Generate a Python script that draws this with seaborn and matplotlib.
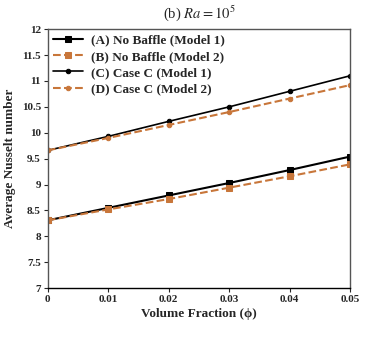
import numpy as np
import pandas as pd
import matplotlib.pyplot as plt
import seaborn as sns

phi = [0, 0.01, 0.02, 0.03, 0.04, 0.05]
nu_a = [8.31, 8.55, 8.79, 9.03, 9.28, 9.54]
nu_b = [8.31, 8.52, 8.72, 8.94, 9.16, 9.39]
nu_c = [9.66, 9.93, 10.22, 10.50, 10.80, 11.10]
nu_d = [9.66, 9.90, 10.15, 10.40, 10.66, 10.92]
labels = ['(A) No Baffle (Model 1)', '(B) No Baffle (Model 2)',
          '(C) Case C (Model 1)', '(D) Case C (Model 2)']

sns.set_style('white')
plt.rcParams['font.family'] = ['Liberation Serif', 'DejaVu Serif']
plt.rcParams['mathtext.fontset'] = 'stix'

fig = plt.figure(figsize=(3.74, 3.39), dpi=100)
ax = fig.add_axes([0.128, 0.150, 0.808, 0.764])

orange = '#c8763a'
styles = [
    dict(color='black', linestyle='-', marker='s', markersize=4, linewidth=1.5),
    dict(color=orange, linestyle='--', marker='s', markersize=4, linewidth=1.5),
    dict(color='black', linestyle='-', marker='o', markersize=3.2, linewidth=1.2),
    dict(color=orange, linestyle='--', marker='o', markersize=3.2, linewidth=1.5),
]
for vals, lab, st in zip([nu_a, nu_b, nu_c, nu_d], labels, styles):
    sns.lineplot(x=phi, y=vals, ax=ax, label=lab, markeredgecolor=st['color'], **st)

ax.set_xlim(0, 0.05)
ax.set_ylim(7, 12)
ax.set_xticks(phi)
ax.set_xticklabels(['0', '0.01', '0.02', '0.03', '0.04', '0.05'])
ax.set_yticks(np.arange(7, 12.01, 0.5))
ax.set_yticklabels(['7', '7.5', '8', '8.5', '9', '9.5', '10', '10.5', '11', '11.5', '12'])
ax.tick_params(axis='both', direction='out', length=3, width=0.8, labelsize=8, pad=2,
               bottom=True, left=True)
for t in ax.get_xticklabels() + ax.get_yticklabels():
    t.set_fontweight('bold')
for s in ax.spines.values():
    s.set_color('#555555')
    s.set_linewidth(1.0)
ax.spines['bottom'].set_color('black')

ax.set_xlabel('Volume Fraction (\u03d5)', fontsize=9.5, fontweight='bold', labelpad=3)
ax.set_ylabel('Average Nusselt number', fontsize=9.5, fontweight='bold', labelpad=4)
ax.set_title('(b) $Ra = 10^5$', fontsize=10.5, pad=8)

leg = ax.legend(loc='upper left', frameon=False, fontsize=9.5, handlelength=2.3,
                borderaxespad=0.0, labelspacing=0.3, handletextpad=0.6)
for t in leg.get_texts():
    t.set_fontweight('bold')

fig.savefig('out.png', dpi=100)
